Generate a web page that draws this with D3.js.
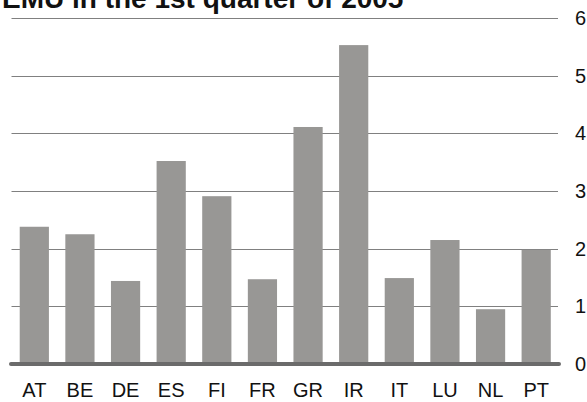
<!DOCTYPE html>
<html>
<head>
<meta charset="utf-8">
<script src="https://cdn.jsdelivr.net/npm/d3@7"></script>
<style>
  body { margin: 0; background: #fff; }
  svg { display: block; font-family: "Liberation Sans", Arial, sans-serif; }
</style>
</head>
<body>
<svg></svg>
<script>
const countries = ['AT', 'BE', 'DE', 'ES', 'FI', 'FR', 'GR', 'IR', 'IT', 'LU', 'NL', 'PT'];
const values    = [2.38, 2.25, 1.44, 3.52, 2.91, 1.47, 4.11, 5.53, 1.49, 2.15, 0.95, 1.98];
const yTicks    = [0, 1, 2, 3, 4, 5, 6];
const title     = 'EMU in the 1st quarter of 2005';

const WIDTH  = 587;
const HEIGHT = 402;
const FONT   = '"Liberation Sans", Arial, sans-serif';

const x = d3.scaleBand()
  .domain(countries)
  .range([11.5, 559])
  .paddingInner(0.36)
  .paddingOuter(0.18);

const y = d3.scaleLinear()
  .domain([0, 6])
  .range([364, 18]);

const svg = d3.select('svg')
  .attr('width', WIDTH)
  .attr('height', HEIGHT);

// grid lines
svg.append('g')
  .selectAll('line')
  .data(yTicks.filter(t => t > 0))
  .enter()
  .append('line')
  .attr('x1', 11.5)
  .attr('x2', 558)
  .attr('y1', d => Math.round(y(d)) + 0.5)
  .attr('y2', d => Math.round(y(d)) + 0.5)
  .attr('stroke', '#808080')
  .attr('stroke-width', 1);

// right axis labels
const yAxis = svg.append('g')
  .attr('transform', 'translate(575,0)')
  .call(d3.axisRight(y).tickValues(yTicks).tickSize(0).tickPadding(0).tickFormat(d3.format('d')));
yAxis.select('.domain').remove();
yAxis.selectAll('text')
  .attr('font-size', 20)
  .attr('font-family', FONT)
  .attr('fill', '#111');

// bars
svg.append('g')
  .selectAll('rect')
  .data(values)
  .enter()
  .append('rect')
  .attr('x', (d, i) => x(countries[i]))
  .attr('width', x.bandwidth())
  .attr('y', d => y(d))
  .attr('height', d => y(0) - y(d))
  .attr('fill', '#989795');

// baseline
svg.append('line')
  .attr('x1', 11)
  .attr('x2', 559)
  .attr('y1', y(0))
  .attr('y2', y(0))
  .attr('stroke', '#6b6b6b')
  .attr('stroke-width', 4)
  .attr('stroke-linecap', 'round');

// category labels
const xAxis = svg.append('g')
  .attr('transform', 'translate(0,383)')
  .call(d3.axisBottom(x).tickSize(0).tickPadding(0));
xAxis.select('.domain').remove();
xAxis.selectAll('text')
  .attr('font-size', 20)
  .attr('font-family', FONT)
  .attr('fill', '#111');

// title, cut off at the top as in the source image
svg.append('text')
  .attr('x', 2)
  .attr('y', 8)
  .attr('font-size', 28)
  .attr('font-weight', 'bold')
  .attr('fill', '#111')
  .text(title);
</script>
</body>
</html>
